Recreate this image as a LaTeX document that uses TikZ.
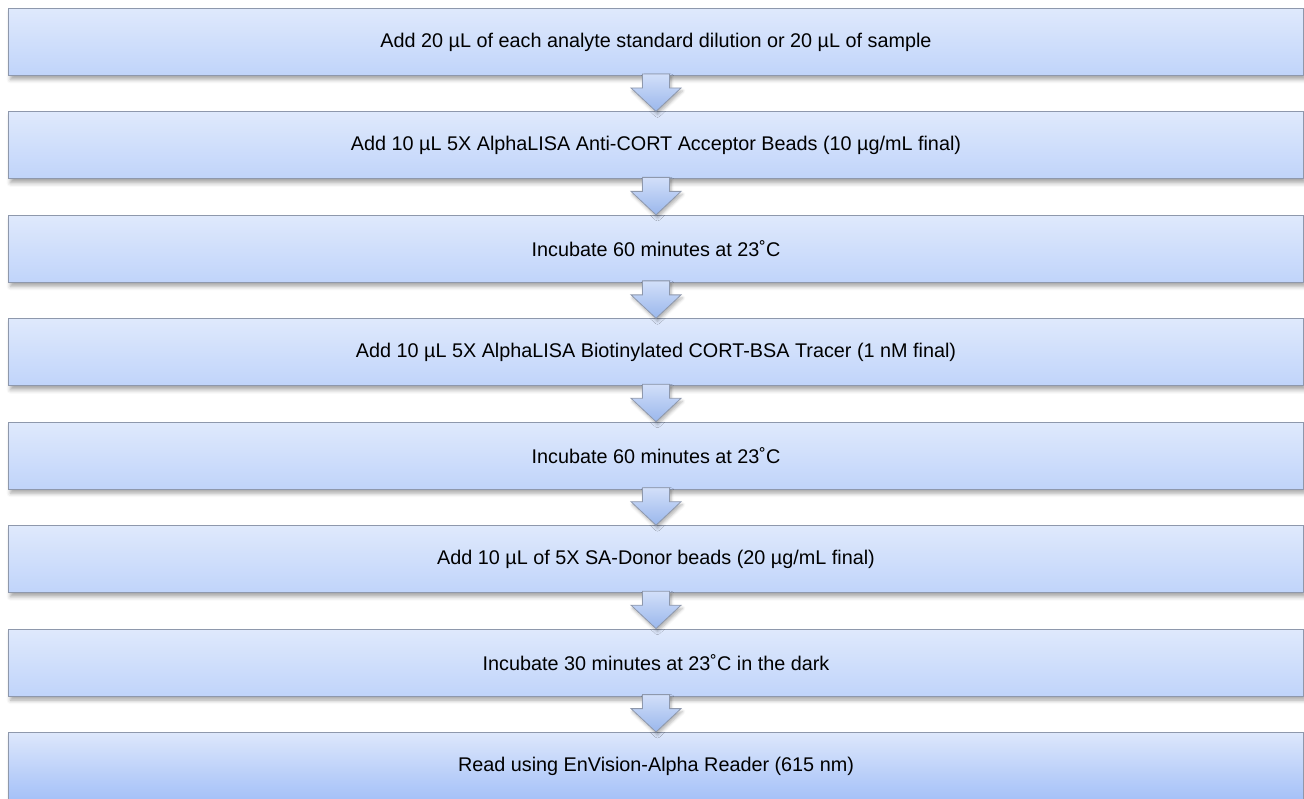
\documentclass[tikz,border=0pt]{standalone}
\usepackage{fontspec}
\setmainfont{Liberation Sans}
\usetikzlibrary{shadows.blur}
\definecolor{boxtop}{HTML}{DFE9FC}
\definecolor{boxbot}{HTML}{C0D4FA}
\definecolor{lasttop}{HTML}{DDE7FB}
\definecolor{lastbot}{HTML}{A5C1F8}
\definecolor{boxline}{HTML}{8E98AC}
\definecolor{arrtop}{HTML}{D2DFF9}
\definecolor{arrbot}{HTML}{9AB7EC}
\begin{document}
\begin{tikzpicture}[x=1pt,y=1pt,
    stepbox/.style={draw=boxline, line width=1pt, top color=boxtop, bottom color=boxbot,
      minimum width=1295pt, minimum height=67pt, anchor=north west, inner sep=0pt,
      font=\fontsize{19.8}{24}\selectfont,
      blur shadow={shadow xshift=2pt, shadow yshift=-4pt, shadow blur radius=4pt, shadow opacity=35}},
    laststep/.style={stepbox, top color=lasttop, bottom color=lastbot},
    flowarrow/.style={draw=boxline, line width=0.8pt, top color=arrtop, bottom color=arrbot,
      line join=miter,
      blur shadow={shadow xshift=1.5pt, shadow yshift=-3pt, shadow blur radius=3pt, shadow opacity=30}}]
        \useasboundingbox (0,0) rectangle (1304,-799);
        % the steps
        \node[stepbox] (b1) at (8,-8) {Add 20 µL of each analyte standard dilution or 20 µL of sample};
        \node[stepbox] (b2) at (8,-111.4) {Add 10 µL 5X AlphaLISA Anti-CORT Acceptor Beads (10 µg/mL final)};
        \node[stepbox] (b3) at (8,-214.9) {Incubate 60 minutes at 23˚C};
        \node[stepbox] (b4) at (8,-318.3) {Add 10 µL 5X AlphaLISA Biotinylated CORT-BSA Tracer (1 nM final)};
        \node[stepbox] (b5) at (8,-421.7) {Incubate 60 minutes at 23˚C};
        \node[stepbox] (b6) at (8,-525.2) {Add 10 µL of 5X SA-Donor beads (20 µg/mL final)};
        \node[stepbox] (b7) at (8,-628.6) {Incubate 30 minutes at 23˚C in the dark};
        \node[laststep] (b8) at (8,-732) {Read using EnVision-Alpha Reader (615 nm)};
        % block arrows between the steps
        \foreach \a/\b in {1/2,2/3,3/4,4/5,5/6,6/7,7/8}
            \draw[flowarrow] ([xshift=-13.5pt,yshift=2pt]b\a.south) -- ([xshift=-13.5pt,yshift=-12pt]b\a.south)
                -- ([xshift=-25pt,yshift=-12pt]b\a.south) -- (b\b.north)
                -- ([xshift=25pt,yshift=-12pt]b\a.south) -- ([xshift=13.5pt,yshift=-12pt]b\a.south)
                -- ([xshift=13.5pt,yshift=2pt]b\a.south) -- cycle;
    \end{tikzpicture}
\end{document}
